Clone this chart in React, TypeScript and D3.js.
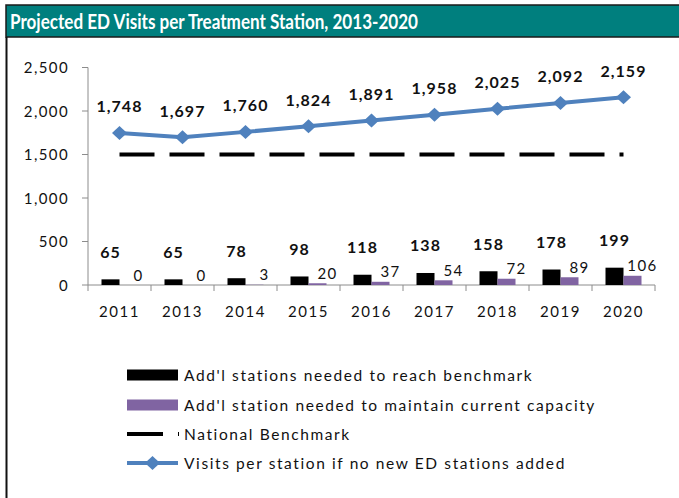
import React from 'react';
import * as d3 from 'd3';

const categories = ['2011', '2013', '2014', '2015', '2016', '2017', '2018', '2019', '2020'];
const benchmarkStations = [65, 65, 78, 98, 118, 138, 158, 178, 199];
const capacityStations = [0, 0, 3, 20, 37, 54, 72, 89, 106];
const visitsPerStation = [1748, 1697, 1760, 1824, 1891, 1958, 2025, 2092, 2159];
const nationalBenchmark = 1500;
const yTicks = [0, 500, 1000, 1500, 2000, 2500];

const title = 'Projected ED Visits per Treatment Station, 2013-2020';
const legendLabels = [
  "Add'l stations needed to reach benchmark",
  "Add'l station needed to maintain current capacity",
  'National Benchmark',
  'Visits per station if no new ED stations added',
];

const W = 679;
const H = 498;
const FONT = 'Lato, "Open Sans", sans-serif';
const BLUE = '#4F81BD';
const PURPLE = '#8064A2';
const TEAL = '#007F7E';

export default function App() {
  const x = d3.scaleBand<string>().domain(categories).range([88, 655]).paddingInner(0).paddingOuter(0);
  const y = d3.scaleLinear().domain([0, 2500]).range([285, 67.5]);
  const sub = d3.scaleBand<string>().domain(['bench', 'cap']).range([-18, 18]);
  const cx = (c: string) => (x(c) as number) + x.bandwidth() / 2;
  const fmt = d3.format(',');

  const linePath = d3
    .line<number>()
    .x((_, i) => cx(categories[i]))
    .y((v) => y(v))(visitsPerStation) as string;

  const benchPath = d3
    .line<string>()
    .x((c) => cx(c))
    .y(() => y(nationalBenchmark))([categories[0], categories[categories.length - 1]]) as string;

  const diamond = (px: number, py: number) =>
    `M${px},${py - 7}L${px + 7.5},${py}L${px},${py + 7}L${px - 7.5},${py}Z`;

  const legendY = [375, 405, 434, 463];

  return (
    <svg width={W} height={H} style={{ position: 'absolute', left: 0, top: 0, background: '#fff' }} fontFamily={FONT}>
      <rect x={0} y={0} width={W} height={H} fill="#fff" />
      {/* title bar */}
      <rect x={6} y={5} width={W} height={32} fill={TEAL} stroke="#1a1a1a" strokeWidth={1.5} />
      <text x={10} y={28.5} fill="#fff" fontSize={21} fontWeight={700} textLength={408} lengthAdjust="spacingAndGlyphs">
        {title}
      </text>
      {/* left frame */}
      <line x1={6.5} y1={37} x2={6.5} y2={H} stroke="#111" strokeWidth={2} />

      {/* y axis */}
      <line x1={88} y1={y(0)} x2={88} y2={y(2500)} stroke="#8c8c8c" strokeWidth={1} />
      {yTicks.map((t) => (
        <g key={t}>
          <line x1={82} x2={88} y1={y(t)} y2={y(t)} stroke="#8c8c8c" />
          <text x={69} y={y(t) + 5.5} textAnchor="end" fontSize={15} letterSpacing={1.4} fill="#111">
            {fmt(t)}
          </text>
        </g>
      ))}
      {/* x axis */}
      <line x1={88} x2={655} y1={y(0)} y2={y(0)} stroke="#8c8c8c" />
      {categories.map((c) => (
        <line key={'t' + c} x1={x(c) as number} x2={x(c) as number} y1={y(0)} y2={y(0) + 6} stroke="#8c8c8c" />
      ))}
      <line x1={655} x2={655} y1={y(0)} y2={y(0) + 6} stroke="#8c8c8c" />
      {categories.map((c) => (
        <text key={'xl' + c} x={cx(c)} y={317} textAnchor="middle" fontSize={15} letterSpacing={1.6} fill="#111">
          {c}
        </text>
      ))}

      {/* bars */}
      {categories.map((c, i) => (
        <g key={'b' + c}>
          <rect x={cx(c) + (sub('bench') as number)} width={sub.bandwidth()} y={y(benchmarkStations[i])} height={y(0) - y(benchmarkStations[i])} fill="#000" />
          <rect x={cx(c) + (sub('cap') as number)} width={sub.bandwidth()} y={y(capacityStations[i])} height={y(0) - y(capacityStations[i])} fill={PURPLE} />
          <text x={cx(c) + (sub('bench') as number) + sub.bandwidth() / 2} y={y(benchmarkStations[i]) - 21.5} textAnchor="middle" fontSize={16} fontWeight={700} letterSpacing={1} fill="#111">
            {fmt(benchmarkStations[i])}
          </text>
          <text x={cx(c) + (sub('cap') as number) + sub.bandwidth() / 2 + 10} y={y(capacityStations[i]) - 4.5} textAnchor="middle" fontSize={15} letterSpacing={1.4} fill="#111">
            {fmt(capacityStations[i])}
          </text>
        </g>
      ))}

      {/* benchmark line */}
      <path d={benchPath} stroke="#000" strokeWidth={4} strokeDasharray="35 15" fill="none" />

      {/* visits line */}
      <path d={linePath} stroke={BLUE} strokeWidth={4} fill="none" strokeLinejoin="round" />
      {visitsPerStation.map((v, i) => (
        <g key={'p' + i}>
          <path d={diamond(cx(categories[i]), y(v))} fill={BLUE} />
          <text x={cx(categories[i])} y={y(v) - 20.5} textAnchor="middle" fontSize={16} fontWeight={700} letterSpacing={1} fill="#111">
            {fmt(v)}
          </text>
        </g>
      ))}

      {/* legend */}
      <rect x={127} y={legendY[0] - 5.5} width={51} height={11} fill="#000" />
      <rect x={127} y={legendY[1] - 5.5} width={51} height={11} fill={PURPLE} />
      <line x1={127} x2={179} y1={legendY[2]} y2={legendY[2]} stroke="#000" strokeWidth={4} strokeDasharray="36 15" />
      <line x1={127} x2={178} y1={legendY[3]} y2={legendY[3]} stroke={BLUE} strokeWidth={4} />
      <path d={diamond(152.5, legendY[3])} fill={BLUE} />
      {legendLabels.map((l, i) => (
        <text key={'lg' + i} x={184} y={legendY[i] + 5.5} fontSize={15.5} letterSpacing={1.6} fill="#111">
          {l}
        </text>
      ))}
    </svg>
  );
}
